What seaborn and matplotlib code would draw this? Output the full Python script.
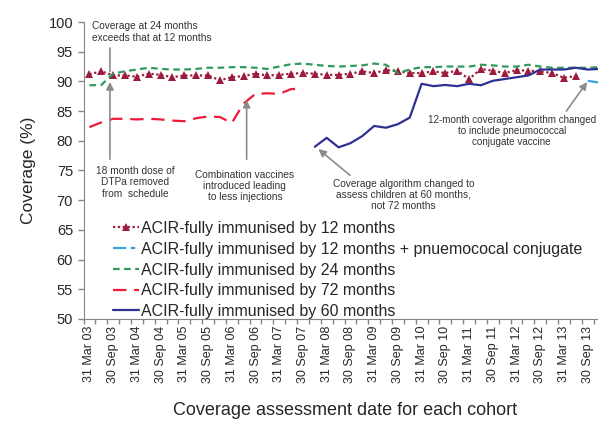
import numpy as np
import pandas as pd
import seaborn as sns
import matplotlib.pyplot as plt

nan = np.nan

# quarterly cohorts, 31 Mar 03 .. 31 Dec 13 (labels every second quarter)
tick_labels = ["31 Mar 03", "30 Sep 03", "31 Mar 04", "30 Sep 04", "31 Mar 05", "30 Sep 05",
               "31 Mar 06", "30 Sep 06", "31 Mar 07", "30 Sep 07", "31 Mar 08", "30 Sep 08",
               "31 Mar 09", "30 Sep 09", "31 Mar 10", "30 Sep 10", "31 Mar 11", "30 Sep 11",
               "31 Mar 12", "30 Sep 12", "31 Mar 13", "30 Sep 13"]

cov_12m = [91.2, 91.7, 91.0, 91.0, 90.8, 91.3, 91.1, 90.7, 91.0, 91.0, 91.0, 90.2, 90.7, 90.9, 91.3,
           91.0, 91.1, 91.3, 91.4, 91.3, 91.1, 91.1, 91.3, 91.7, 91.4, 91.9, 91.7, 91.4, 91.4, 91.7,
           91.4, 91.8, 90.4, 92.1, 91.8, 91.4, 91.9, 91.8, 91.7, 91.4, 90.6, 90.9, nan, nan]
cov_12m_pcv = [nan] * 42 + [90.1, 89.8]
cov_24m = [89.35, 89.4, 91.3, 91.7, 92.0, 92.3, 92.1, 92.0, 92.0, 92.1, 92.3, 92.3, 92.4, 92.4, 92.3,
           92.1, 92.5, 92.9, 93.0, 92.8, 92.6, 92.5, 92.6, 92.7, 93.0, 92.8, 91.4, 92.0, 92.4, 92.4,
           92.5, 92.5, 92.5, 92.8, 92.7, 92.5, 92.5, 92.8, 92.5, 92.3, 92.3, 92.3, 92.3, 92.4]
cov_72m = [82.3, 83.1, 83.7, 83.7, 83.6, 83.7, 83.6, 83.4, 83.3, 83.8, 84.1, 84.0, 83.0, 86.3, 87.9,
           88.0, 87.9, 88.7, 88.8] + [nan] * 25
cov_60m = [nan] * 19 + [79.0, 80.5, 78.9, 79.6, 80.8, 82.5, 82.2, 82.8, 83.9, 89.6, 89.2, 89.4, 89.2,
                        89.6, 89.35, 90.1, 90.4, 90.7, 91.0, 92.0, 92.0, 92.0, 92.3, 92.0, 92.1]

quarter = np.arange(len(cov_12m))
df = pd.DataFrame({"quarter": quarter, "m12": cov_12m, "m12pcv": cov_12m_pcv,
                   "m24": cov_24m, "m72": cov_72m, "m60": cov_60m})

sns.set_style("ticks")
plt.rcParams["font.family"] = ["Liberation Sans", "DejaVu Sans"]

fig = plt.figure(figsize=(5.98, 4.24), dpi=100)
ax = fig.add_axes([83.5 / 598, 105 / 424, 522 / 598, 297 / 424])

series = [
    ("m12", "ACIR-fully immunised by 12 months", "#9b1c3c", (0, (1, 1.2)), "^"),
    ("m12pcv", "ACIR-fully immunised by 12 months + pnuemococal conjugate", "#3aa3db", (0, (6, 2, 2, 2)), None),
    ("m24", "ACIR-fully immunised by 24 months", "#2e9a5c", (0, (3, 2)), None),
    ("m72", "ACIR-fully immunised by 72 months", "#ee1c3a", (0, (6, 3.5)), None),
    ("m60", "ACIR-fully immunised by 60 months", "#2e3192", "-", None),
]
for col, label, color, ls, mk in series:
    sns.lineplot(data=df, x="quarter", y=col, ax=ax, color=color, linestyle=ls, lw=1.6,
                 marker=mk, markersize=5.5, markeredgewidth=0, label=label)

ax.set_xlim(-0.5, 43.5)
ax.set_ylim(50, 100)
ax.set_yticks(range(50, 101, 5))
ax.set_xticks(quarter[::2])
ax.set_xticklabels(tick_labels, rotation=90, fontsize=9)
ax.set_xticks(np.arange(-0.5, 44, 1), minor=True)
ax.tick_params(axis="x", which="major", length=0, pad=5)
ax.tick_params(axis="x", which="minor", length=3.5, color="#868686", width=1)
ax.tick_params(axis="y", length=4, color="#868686", width=1, labelsize=10.5)
sns.despine(ax=ax)
for s in ("left", "bottom"):
    ax.spines[s].set_color("#868686")
ax.set_ylabel("Coverage (%)", fontsize=12.5, labelpad=9)
ax.set_xlabel("Coverage assessment date for each cohort", fontsize=13)
ax.xaxis.set_label_coords((345 - 83.5) / 522, -0.28)

handles, labels = ax.get_legend_handles_labels()
ax.legend(handles, labels, loc="upper left", bbox_to_anchor=(113 / 598, 1 - 221 / 424),
          bbox_transform=fig.transFigure, frameon=False, fontsize=11.5, borderpad=0,
          borderaxespad=0, handlelength=1.6, handletextpad=0.15, labelspacing=0.36, numpoints=1)

# annotations
txt = dict(fontsize=7.3, color="#333333", ha="center", va="center", linespacing=1.15)
arr = dict(arrowstyle="-|>", color="#8c8c8c", lw=1.2, mutation_scale=11, shrinkA=0, shrinkB=0)
ax.text(0.18, 98.3, "Coverage at 24 months\nexceeds that at 12 months", **{**txt, "ha": "left"})
ax.annotate("", xy=(1.73, 91.2), xytext=(1.73, 96.1),
            arrowprops=dict(arrowstyle="-", color="#8c8c8c", lw=1.2))
ax.text(3.85, 73.0, "18 month dose of\nDTPa removed\nfrom  schedule", **txt)
ax.annotate("", xy=(1.73, 89.9), xytext=(1.73, 76.9), arrowprops=arr)
ax.text(13.1, 72.35, "Combination vaccines\nintroduced leading\nto less injections", **txt)
ax.annotate("", xy=(13.25, 86.9), xytext=(13.25, 76.9), arrowprops=arr)
ax.text(26.46, 70.9, "Coverage algorithm changed to\nassess children at 60 months,\nnot 72 months", **txt)
ax.annotate("", xy=(19.3, 78.6), xytext=(21.96, 74.2), arrowprops=arr)
ax.text(35.6, 81.65, "12-month coverage algorithm changed\nto include pneumococcal\nconjugate vaccine",
        **{**txt, "fontsize": 7.1})
ax.annotate("", xy=(41.95, 89.9), xytext=(40.2, 85.0), arrowprops=arr)

fig.savefig("out.png", dpi=100)
